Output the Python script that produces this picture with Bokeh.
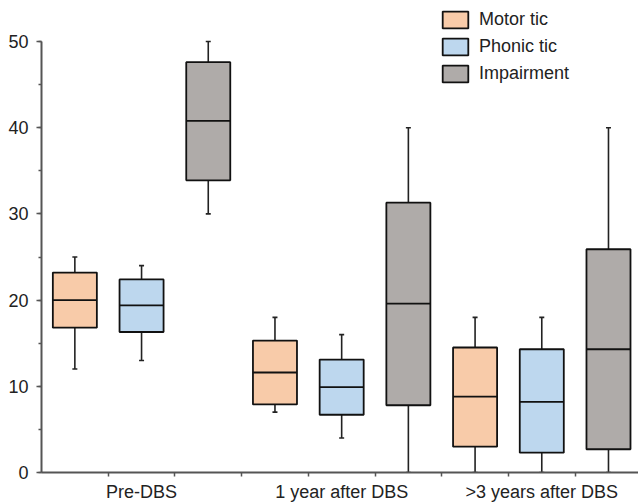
from bokeh.plotting import figure
from bokeh.models import Range1d, FixedTicker, SingleIntervalTicker, Legend, LegendItem, ColumnDataSource
from bokeh.embed import file_html
from bokeh.resources import INLINE

groups = ["Pre-DBS", "1 year after DBS", ">3 years after DBS"]
series = ["Motor tic", "Phonic tic", "Impairment"]
colors = ["#F8CBA9", "#BDD7EE", "#AFABA9"]

motor_low = [12, 7, 0]
motor_q1 = [16.8, 7.9, 3.0]
motor_med = [20.0, 11.6, 8.8]
motor_q3 = [23.2, 15.3, 14.5]
motor_high = [25, 18, 18]

phonic_low = [13, 4, 0]
phonic_q1 = [16.3, 6.7, 2.3]
phonic_med = [19.4, 9.9, 8.2]
phonic_q3 = [22.4, 13.1, 14.3]
phonic_high = [24, 16, 18]

impair_low = [30, 0, 0]
impair_q1 = [33.9, 7.8, 2.7]
impair_med = [40.8, 19.6, 14.3]
impair_q3 = [47.6, 31.3, 25.9]
impair_high = [50, 40, 40]

stats = [
    (motor_low, motor_q1, motor_med, motor_q3, motor_high),
    (phonic_low, phonic_q1, phonic_med, phonic_q3, phonic_high),
    (impair_low, impair_q1, impair_med, impair_q3, impair_high),
]

p = figure(width=638, height=504, output_backend="svg", toolbar_location=None,
           x_range=Range1d(0, 8.95), y_range=Range1d(0, 54.76),
           min_border_left=41, min_border_right=0, min_border_top=0, min_border_bottom=0)
p.outline_line_color = None
p.grid.visible = False
p.background_fill_color = "white"

FONT = "Liberation Sans"
box_w = 0.66
items = []
for s, (lo, q1, med, q3, hi) in enumerate(stats):
    xs = [3 * g + s + 0.5 for g in range(len(groups))]
    src = ColumnDataSource(dict(x=xs, lo=lo, q1=q1, med=med, q3=q3, hi=hi,
                                x0=[x - box_w / 2 for x in xs], x1=[x + box_w / 2 for x in xs]))
    p.segment(x0="x", y0="q3", x1="x", y1="hi", source=src, line_color="#222222", line_width=1.6)
    p.segment(x0="x", y0="lo", x1="x", y1="q1", source=src, line_color="#222222", line_width=1.6)
    p.scatter(x="x", y="hi", source=src, marker="dash", size=5, line_color="#222222", line_width=1.6)
    p.scatter(x="x", y="lo", source=src, marker="dash", size=5, line_color="#222222", line_width=1.6)
    r = p.vbar(x="x", bottom="q1", top="q3", width=box_w, source=src,
               fill_color=colors[s], line_color="#111111", line_width=1.8)
    p.segment(x0="x0", y0="med", x1="x1", y1="med", source=src, line_color="#111111", line_width=1.8)
    items.append(LegendItem(label=series[s], renderers=[r]))

legend = Legend(items=items, location=(398, 388), glyph_width=32, glyph_height=21,
                label_height=21, spacing=6, padding=0, margin=0, label_standoff=8,
                label_text_font=FONT, label_text_font_size="18px", label_text_color="#222222",
                border_line_color=None, background_fill_alpha=0)
p.add_layout(legend)

ya = p.yaxis[0]
ya.ticker = SingleIntervalTicker(interval=10, num_minor_ticks=2)
ya.bounds = (0, 50)
xa = p.xaxis[0]
xa.ticker = FixedTicker(ticks=[1.5, 4.5, 7.5], minor_ticks=[1, 2, 3, 4, 5, 6, 7, 8])
xa.major_label_overrides = {1.5: groups[0], 4.5: groups[1], 7.5: groups[2]}
xa.major_tick_out = 0
xa.major_tick_in = 0
xa.minor_tick_out = 4
xa.minor_tick_in = 0
ya.major_tick_out = 5
ya.major_tick_in = 0
ya.minor_tick_out = 3
ya.minor_tick_in = 0
for ax in (xa, ya):
    ax.axis_line_color = "#555555"
    ax.axis_line_width = 2
    ax.major_tick_line_color = "#555555"
    ax.minor_tick_line_color = "#555555"
    ax.major_tick_line_width = 1.5
    ax.minor_tick_line_width = 1.5
    ax.major_label_text_font = FONT
    ax.major_label_text_font_size = "18px"
    ax.major_label_text_color = "#222222"
ya.major_label_standoff = 8
xa.major_label_standoff = 5

open("out.html", "w").write(file_html(p, INLINE))
